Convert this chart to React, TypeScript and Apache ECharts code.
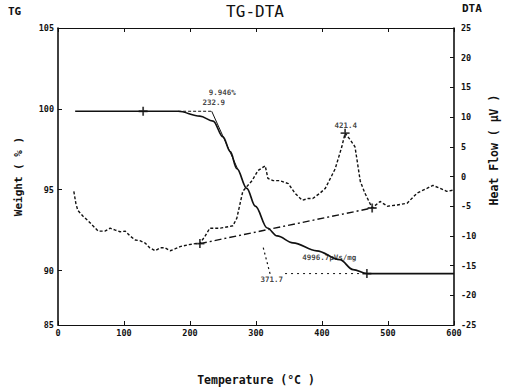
import { useEffect, useRef } from "react";
import * as echarts from "echarts";

// ---- axes ----
const xTicks = [0, 100, 200, 300, 400, 500, 600];
const tgTickValues = [86.63, 90, 95, 100, 105];
const tgTickLabels = ["85", "90", "95", "100", "105"];
const dtaTicks = [-25, -20, -15, -10, -5, 0, 5, 10, 15, 20, 25];

// ---- TG curve (Weight %) ----
const tgTemp = [26, 129, 182, 215, 235, 250, 261, 271, 286, 299, 317, 332, 356, 392, 427, 447, 468, 600];
const tgWeight = [99.85, 99.85, 99.85, 99.55, 99.24, 98.26, 97.35, 96.3, 95.08, 93.98, 92.63, 92.14, 91.71, 91.22, 90.67, 90.06, 89.81, 89.81];

// ---- DTA curve (Heat flow uV) ----
const dtaTemp = [24, 27, 30, 38, 46, 53, 61, 71, 79, 86, 94, 102, 109, 117, 124, 132, 139, 147, 155, 162, 170, 177, 185, 197, 208, 215, 223, 230, 246, 265, 271, 280, 286, 294, 303, 314, 318, 326, 336, 349, 359, 370, 379, 386, 397, 405, 420, 430, 435, 442, 450, 458, 465, 476, 488, 499, 514, 529, 544, 559, 568, 579, 589, 599];
const dtaHeat = [-2.5, -4.5, -5.7, -6.7, -7.5, -8.3, -9.2, -9.2, -8.7, -9.0, -9.3, -9.2, -10.0, -10.7, -10.8, -11.2, -12.0, -12.5, -12.0, -12.0, -12.5, -12.2, -11.8, -11.5, -11.3, -11.3, -10.0, -8.7, -8.7, -8.3, -7.0, -2.5, -1.7, -0.7, 1.0, 1.8, -0.3, -0.7, -0.7, -1.2, -2.8, -4.0, -3.7, -3.7, -2.8, -2.0, 1.3, 5.0, 7.3, 6.3, 5.0, -0.8, -2.8, -5.3, -4.2, -5.0, -4.8, -4.5, -2.8, -2.0, -1.5, -2.0, -2.5, -2.3];

// ---- analysis construction lines ----
const onsetBaseT = [182, 232.9];
const onsetBaseW = [99.85, 99.85];
const onsetTangentT = [232.9, 272];
const onsetTangentW = [99.85, 96.3];
const endBaseT = [344, 468];
const endBaseW = [89.81, 89.81];
const endTangentT = [311, 322];
const endTangentW = [91.41, 89.69];
const dtaBaseT = [215, 476];
const dtaBaseV = [-11.3, -5.3];

// markers (+)
const tgMarkT = [129, 468];
const tgMarkW = [99.85, 89.81];
const dtaMarkT = [215, 435, 476];
const dtaMarkV = [-11.3, 7.3, -5.3];

// annotation texts
const tgNoteText = ["9.946%", "232.9", "4996.7μVs/mg", "371.7"];
const tgNoteT = [249, 236, 411, 324];
const tgNoteW = [101.02, 100.41, 90.79, 89.45];
const dtaNoteText = ["421.4"];
const dtaNoteT = [436];
const dtaNoteV = [8.67];

const FONT = "DejaVu Sans Mono";
const INK = "#111";
const CROSS = "path://M4,0h2v10h-2z M0,4h10v2h-10z";

const zip = (a: number[], b: number[]) => a.map((v, i) => [v, b[i]]);

export default function App() {
  const ref = useRef<HTMLDivElement>(null);
  useEffect(() => {
    if (!ref.current) return;
    const chart = echarts.init(ref.current, null, { renderer: "svg" });
    const tickLabel = { color: INK, fontFamily: FONT, fontWeight: "bold" as const, fontSize: 8.5 };
    chart.setOption({
      animation: false,
      backgroundColor: "#fff",
      grid: { left: 58, right: 53, top: 28, bottom: 63 },
      xAxis: [
        {
          type: "value",
          min: 0,
          max: 600,
          interval: 100,
          position: "bottom",
          name: "Temperature (°C )",
          nameLocation: "middle",
          nameGap: 49,
          nameTextStyle: { color: INK, fontFamily: FONT, fontWeight: "bold", fontSize: 11.5 },
          axisLine: { onZero: false, lineStyle: { color: INK, width: 1.2 } },
          axisTick: { inside: true, length: 4, lineStyle: { color: INK } },
          axisLabel: { ...tickLabel, margin: 3, formatter: (v: number) => (xTicks.includes(v) ? String(v) : "") },
          splitLine: { show: false },
        },
        {
          type: "value",
          min: 0,
          max: 600,
          interval: 100,
          position: "top",
          axisLine: { onZero: false, lineStyle: { color: INK, width: 1.2 } },
          axisTick: { inside: true, length: 4, lineStyle: { color: INK } },
          axisLabel: { show: false },
          splitLine: { show: false },
        },
      ],
      yAxis: [
        {
          type: "value",
          min: 86.63,
          max: 105,
          position: "left",
          name: "Weight ( % )",
          nameLocation: "middle",
          nameGap: 34,
          nameRotate: 90,
          nameTextStyle: { color: INK, fontFamily: FONT, fontWeight: "bold", fontSize: 11 },
          axisLine: { show: true, onZero: false, lineStyle: { color: INK, width: 1.6 } },
          axisTick: { show: true, inside: true, length: 4, customValues: tgTickValues, lineStyle: { color: INK } },
          axisLabel: {
            ...tickLabel,
            margin: 4,
            customValues: tgTickValues,
            formatter: (v: number) => {
              const i = tgTickValues.findIndex((t) => Math.abs(t - v) < 0.01);
              return i >= 0 ? tgTickLabels[i] : "";
            },
          },
          splitLine: { show: false },
        },
        {
          type: "value",
          min: -25,
          max: 25,
          interval: 5,
          position: "right",
          axisLine: { show: true, onZero: false, lineStyle: { color: INK, width: 1.6 } },
          axisTick: { show: true, inside: true, length: 4, lineStyle: { color: INK } },
          axisLabel: { ...tickLabel, margin: 7, formatter: (v: number) => (dtaTicks.includes(v) ? String(v) : "") },
          splitLine: { show: false },
        },
      ],
      series: [
        {
          name: "TG",
          type: "line",
          xAxisIndex: 0,
          yAxisIndex: 0,
          data: zip(tgTemp, tgWeight),
          smooth: 0.35,
          smoothMonotone: "x",
          showSymbol: false,
          lineStyle: { color: INK, width: 1.7 },
        },
        {
          name: "DTA",
          type: "line",
          xAxisIndex: 0,
          yAxisIndex: 1,
          data: zip(dtaTemp, dtaHeat),
          showSymbol: false,
          lineStyle: { color: INK, width: 1.4, type: [3, 2] },
        },
        {
          type: "line",
          yAxisIndex: 0,
          data: zip(onsetBaseT, onsetBaseW),
          showSymbol: false,
          lineStyle: { color: INK, width: 1, type: [3, 2] },
        },
        {
          type: "line",
          yAxisIndex: 0,
          data: zip(onsetTangentT, onsetTangentW),
          showSymbol: false,
          lineStyle: { color: INK, width: 1 },
        },
        {
          type: "line",
          yAxisIndex: 0,
          data: zip(endBaseT, endBaseW),
          showSymbol: false,
          lineStyle: { color: INK, width: 1, type: [2, 4] },
        },
        {
          type: "line",
          yAxisIndex: 0,
          data: zip(endTangentT, endTangentW),
          showSymbol: false,
          lineStyle: { color: INK, width: 1.2, type: [2, 3] },
        },
        {
          type: "line",
          yAxisIndex: 1,
          data: zip(dtaBaseT, dtaBaseV),
          showSymbol: false,
          lineStyle: { color: INK, width: 1.4, type: [7, 3, 2, 3] },
        },
        {
          type: "scatter",
          yAxisIndex: 0,
          data: zip(tgMarkT, tgMarkW),
          symbol: CROSS,
          symbolSize: 9,
          itemStyle: { color: INK },
        },
        {
          type: "scatter",
          yAxisIndex: 1,
          data: zip(dtaMarkT, dtaMarkV),
          symbol: CROSS,
          symbolSize: 9,
          itemStyle: { color: INK },
        },
        {
          type: "scatter",
          yAxisIndex: 0,
          data: tgNoteT.map((t, i) => ({ value: [t, tgNoteW[i]], label: { formatter: tgNoteText[i] } })),
          symbolSize: 0,
          label: { show: true, position: "inside", color: INK, fontFamily: FONT, fontWeight: "bold", fontSize: 7.5 },
        },
        {
          type: "scatter",
          yAxisIndex: 1,
          data: dtaNoteT.map((t, i) => ({ value: [t, dtaNoteV[i]], label: { formatter: dtaNoteText[i] } })),
          symbolSize: 0,
          label: { show: true, position: "inside", color: INK, fontFamily: FONT, fontWeight: "bold", fontSize: 7.5 },
        },
      ],
      graphic: [
        { type: "text", left: 8, top: 6, style: { text: "TG", fill: INK, font: `bold 11px "${FONT}"` } },
        { type: "text", left: 462, top: 3, style: { text: "DTA", fill: INK, font: `bold 11px "${FONT}"` } },
        {
          type: "text",
          x: 255,
          y: 11,
          style: { text: "TG-DTA", fill: INK, font: `16px "${FONT}"`, align: "center", verticalAlign: "middle" },
        },
        {
          type: "text",
          x: 494,
          y: 150,
          rotation: Math.PI / 2,
          style: {
            text: "Heat Flow ( μV )",
            fill: INK,
            font: `bold 11.5px "${FONT}"`,
            align: "center",
            verticalAlign: "middle",
          },
        },
      ],
    });
    return () => chart.dispose();
  }, []);
  return <div ref={ref} style={{ width: 507, height: 391, position: "absolute", left: 0, top: 0 }} />;
}
